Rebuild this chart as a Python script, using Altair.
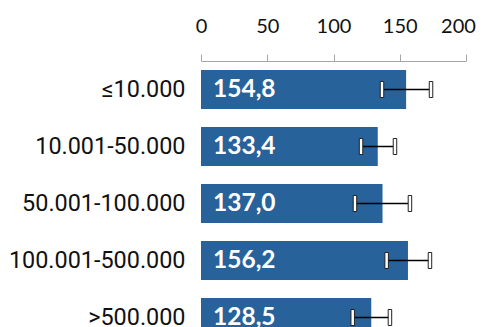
import altair as alt
import pandas as pd

categories = ["≤10.000", "10.001-50.000", "50.001-100.000", "100.001-500.000", ">500.000"]
values = [154.8, 133.4, 137.0, 156.2, 128.5]
lower = [136.6, 120.8, 116.2, 140.1, 114.5]
upper = [173.6, 146.4, 157.7, 172.8, 142.6]
labels = ["154,8", "133,4", "137,0", "156,2", "128,5"]
x_ticks = [0, 50, 100, 150, 200]

df = pd.DataFrame({"cat": categories, "val": values, "lo": lower, "hi": upper, "lab": labels})

y = alt.Y("cat:N", sort=categories, title=None,
          scale=alt.Scale(paddingInner=0.32, paddingOuter=0.16),
          axis=alt.Axis(domain=False, ticks=False, labelFont="Roboto", labelFontSize=23.4,
                        labelColor="#111111", labelPadding=16, labelLimit=400))
x = alt.X("val:Q", title=None, scale=alt.Scale(domain=[0, 200], nice=False),
          axis=alt.Axis(orient="top", values=x_ticks, grid=False,
                        domainColor="#a6a6a6", tickColor="#a6a6a6", tickSize=7,
                        labelFont="Lato", labelFontSize=20, labelColor="#111111",
                        labelPadding=18, labelFlush=False,
                        labelOffset={"condition": {"test": "datum.value == 200", "value": -8}, "value": 0}))

base = alt.Chart(df)
bars = base.mark_bar(color="#28629a").encode(x=x, y=y)
text = base.mark_text(align="left", baseline="middle", dx=12, font="Lato", fontWeight="bold",
                      fontSize=24.5, color="white").encode(x=alt.value(0), y=alt.Y("cat:N", sort=categories), text="lab:N")
err = base.mark_rule(color="black", strokeWidth=1.5).encode(x="lo:Q", x2="hi:Q", y=alt.Y("cat:N", sort=categories))
cap_lo = base.mark_tick(color="white", stroke="#222222", strokeWidth=1, size=16, thickness=3.5, opacity=1, filled=True).encode(
    x="lo:Q", y=alt.Y("cat:N", sort=categories))
cap_hi = base.mark_tick(color="white", stroke="#222222", strokeWidth=1, size=16, thickness=3.5, opacity=1, filled=True).encode(
    x="hi:Q", y=alt.Y("cat:N", sort=categories))

chart = alt.layer(bars, text, err, cap_lo, cap_hi).properties(
    width=265, height=285, padding={"top": 8, "left": 0, "right": 0, "bottom": 5}
).configure_view(stroke=None)

chart.save("out.html", embed_options={"renderer": "svg", "actions": False})
